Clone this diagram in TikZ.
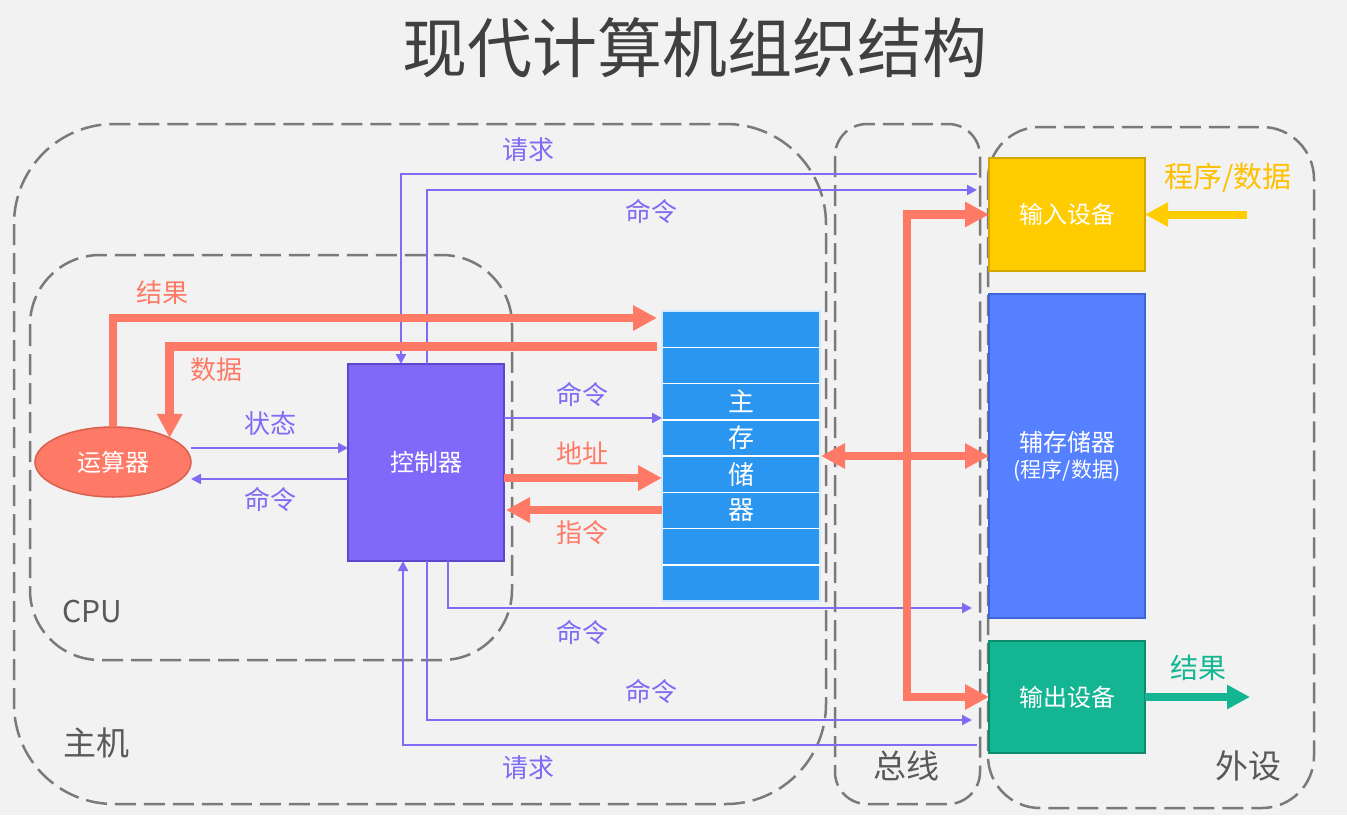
\documentclass[tikz,border=0pt]{standalone}
\usepackage{fontspec}
\setmainfont{Noto Sans CJK SC}
\usetikzlibrary{arrows.meta,shapes.geometric}

\definecolor{pagebg}{HTML}{F2F2F2}
\definecolor{grp}{HTML}{7A7A7A}
\definecolor{grptext}{HTML}{595959}
\definecolor{titletext}{HTML}{404040}
\definecolor{cmd}{HTML}{7E6CF4}
\definecolor{dat}{HTML}{FF7A66}
\definecolor{datdark}{HTML}{D9604E}
\definecolor{ctrlfill}{HTML}{8068FA}
\definecolor{ctrldraw}{HTML}{5B47CC}
\definecolor{memfill}{HTML}{2A96F0}
\definecolor{auxfill}{HTML}{5580FF}
\definecolor{auxdraw}{HTML}{3F63D8}
\definecolor{infill}{HTML}{FFCC00}
\definecolor{indraw}{HTML}{D4A700}
\definecolor{intext}{HTML}{FFC000}
\definecolor{outfill}{HTML}{14B593}
\definecolor{outdraw}{HTML}{0E8A6E}

\newcommand\lblsize{\fontsize{26}{30}\selectfont}
\newcommand\grpsize{\fontsize{33}{38}\selectfont}

\tikzset{
  group/.style={draw=grp, line width=2.5pt, dash pattern=on 21pt off 8pt},
  grplabel/.style={text=grptext, font=\grpsize, inner sep=0pt},
  unit/.style={rectangle, inner sep=0pt, outer sep=0pt, line width=1.5pt,
    text=white, font=\fontsize{24}{28}\selectfont},
  cmdlbl/.style={text=cmd, font=\lblsize, inner sep=0pt},
  datlbl/.style={text=dat, font=\lblsize, inner sep=0pt},
  cmdline/.style={draw=cmd, line width=2.2pt},
  cmdarrow/.style={cmdline, -{Triangle[length=10pt,width=10pt]}},
  datline/.style={draw=dat, line width=8.5pt},
  datarrow/.style={datline, -{Triangle[length=24pt,width=24pt]}},
  memrule/.style={draw=white, line width=1.5pt},
  memchar/.style={text=white, font=\fontsize{26}{30}\selectfont, inner sep=0pt},
}

\begin{document}
\begin{tikzpicture}[x=1pt, y=-1pt]
  % page
  \fill[pagebg] (0,0) rectangle (1347,815);
  \useasboundingbox (0,0) rectangle (1347,815);

  % title
  \node[text=titletext, font=\fontsize{65}{72}\selectfont, inner sep=0pt] (title) at (695,48) {现代计算机组织结构};

  % dashed groups: host, CPU, bus, peripherals
  \draw[group, rounded corners=100pt] (14,124) rectangle (826,804);
  \draw[group, rounded corners=70pt] (30,255) rectangle (512,660);
  \draw[group, rounded corners=32pt] (835,124) rectangle (980,804);
  \draw[group, rounded corners=52pt] (988,127) rectangle (1314,808);

  \node[grplabel] (hostlbl) at (96,743) {主机};
  \node[grplabel, font=\fontsize{30}{34}\selectfont] (cpulbl) at (92,611) {CPU};
  \node[grplabel] (buslbl) at (906,766) {总线};
  \node[grplabel] (perlbl) at (1248,766) {外设};

  % functional units
  \node[unit, ellipse, fill=dat, draw=datdark, minimum width=156pt, minimum height=70pt] (alu) at (113,462) {运算器};
  \node[unit, fill=ctrlfill, draw=ctrldraw, minimum width=156pt, minimum height=197pt] (ctrl) at (426,462.5) {控制器};
  \node[unit, fill=memfill, draw=white!80!memfill, minimum width=158pt, minimum height=290pt] (mem) at (741,456) {};
  \foreach \k in {1,...,7}
    \draw[memrule] (mem.north west) ++(0,{36.25*\k}) -- ++(158,0);
  \node[memchar] (m1) at (741,401.6) {主};
  \node[memchar] (m2) at (741,437.9) {存};
  \node[memchar] (m3) at (741,474.1) {储};
  \node[memchar] (m4) at (741,510.4) {器};

  \node[unit, fill=infill, draw=indraw, minimum width=156pt, minimum height=113pt] (in) at (1067,214.5) {输入设备};
  \node[unit, fill=auxfill, draw=auxdraw, minimum width=156pt, minimum height=324pt, align=center] (aux) at (1067,456)
    {辅存储器\\[-2pt]{\fontsize{21}{26}\selectfont (程序/数据)}};
  \node[unit, fill=outfill, draw=outdraw, minimum width=156pt, minimum height=112pt] (out) at (1067,697) {输出设备};

  % free ends on the bus side
  \coordinate (reqTopEnd) at (977,174);
  \coordinate (cmdTopEnd) at (977,190);
  \coordinate (cmdLowEnd) at (972,608);
  \coordinate (cmdBotEnd) at (972,720);
  \coordinate (reqBotEnd) at (977,745);
  \coordinate (busx) at (907,0);
  \coordinate (srcIn) at (1247,214.5);
  \coordinate (resOut) at (1250,697);

  % control signals
  \draw[cmdarrow] (reqTopEnd) -| (ctrl.north -| 401,0);
  \draw[cmdarrow] (ctrl.north -| 427,0) |- (cmdTopEnd);
  \draw[cmdarrow] (alu.east |- 0,448) -- (ctrl.west |- 0,448);
  \draw[cmdarrow] (ctrl.west |- 0,479) -- (alu.east |- 0,479);
  \draw[cmdarrow] (ctrl.east |- 0,418) -- (mem.west |- 0,418);
  \draw[cmdarrow] (ctrl.south -| 448,0) |- (cmdLowEnd);
  \draw[cmdarrow] (ctrl.south -| 427,0) |- (cmdBotEnd);
  \draw[cmdarrow] (reqBotEnd) -| (ctrl.south -| 403,0);

  % data paths
  \draw[datarrow] (alu.north) |- ([xshift=-5pt]mem.west |- 0,318);
  \draw[datarrow] ([xshift=-5pt]mem.west |- 0,346.5) -| (alu.23);
  \draw[datarrow] (ctrl.east |- 0,478) -- (mem.west |- 0,478);
  \draw[datarrow] (mem.west |- 0,510) -- ([xshift=2pt]ctrl.east |- 0,510);
  \draw[datline, {Triangle[length=24pt,width=24pt]}-{Triangle[length=24pt,width=24pt]}] ([xshift=1pt]mem.east) -- (aux.west);
  \draw[datarrow] (busx |- aux.west) |- (in.west);
  \draw[datarrow] (busx |- aux.west) |- (out.west);

  % external input and output
  \draw[draw=infill, line width=8pt, -{Triangle[length=23pt,width=23pt]}] (srcIn) -- (in.east);
  \draw[draw=outfill, line width=8pt, -{Triangle[length=23pt,width=23pt]}] (out.east) -- (resOut);

  % labels
  \node[cmdlbl] (lreqtop) at (528,150) {请求};
  \node[cmdlbl] (lcmdtop) at (651,212) {命令};
  \node[datlbl] (lres) at (162,293) {结果};
  \node[datlbl] (ldata) at (216,370) {数据};
  \node[cmdlbl] (lstate) at (270,424) {状态};
  \node[cmdlbl] (lcmdalu) at (270,500) {命令};
  \node[cmdlbl] (lcmdmem) at (582,395) {命令};
  \node[datlbl] (laddr) at (582,453) {地址};
  \node[datlbl] (linstr) at (582,533) {指令};
  \node[cmdlbl] (lcmdlow) at (582,633) {命令};
  \node[cmdlbl] (lcmdbot) at (651,692) {命令};
  \node[cmdlbl] (lreqbot) at (528,768) {请求};
  \node[text=intext, font=\fontsize{29}{34}\selectfont, inner sep=0pt] (lsrc) at (1228,178) {程序/数据};
  \node[text=outfill, font=\fontsize{28}{32}\selectfont, inner sep=0pt] (lout) at (1198,668) {结果};
\end{tikzpicture}
\end{document}
